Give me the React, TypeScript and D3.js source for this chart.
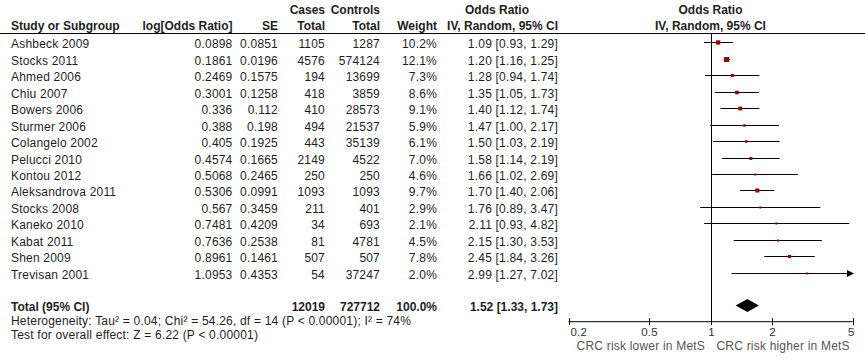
import React from "react";
import * as d3 from "d3";

const studies = ["Ashbeck 2009","Stocks 2011","Ahmed 2006","Chiu 2007","Bowers 2006","Sturmer 2006","Colangelo 2002","Pelucci 2010","Kontou 2012","Aleksandrova 2011","Stocks 2008","Kaneko 2010","Kabat 2011","Shen 2009","Trevisan 2001"];
const logOR = ["0.0898","0.1861","0.2469","0.3001","0.336","0.388","0.405","0.4574","0.5068","0.5306","0.567","0.7481","0.7636","0.8961","1.0953"];
const seVals = ["0.0851","0.0196","0.1575","0.1258","0.112","0.198","0.1925","0.1665","0.2465","0.0991","0.3459","0.4209","0.2538","0.1461","0.4353"];
const casesTotal = [1105,4576,194,418,410,494,443,2149,250,1093,211,34,81,507,54];
const controlsTotal = [1287,574124,13699,3859,28573,21537,35139,4522,250,1093,401,693,4781,507,37247];
const weights = [10.2,12.1,7.3,8.6,9.1,5.9,6.1,7.0,4.6,9.7,2.9,2.1,4.5,7.8,2.0];
const orVals = [1.09,1.20,1.28,1.35,1.40,1.47,1.50,1.58,1.66,1.70,1.76,2.11,2.15,2.45,2.99];
const ciLow = [0.93,1.16,0.94,1.05,1.12,1.00,1.03,1.14,1.02,1.40,0.89,0.93,1.30,1.84,1.27];
const ciHigh = [1.29,1.25,1.74,1.73,1.74,2.17,2.19,2.19,2.69,2.06,3.47,4.82,3.53,3.26,7.02];
const total = { cases: 12019, controls: 727712, weight: 100.0, or: 1.52, lo: 1.33, hi: 1.73 };
const axisTicks = [0.2, 0.5, 1, 2, 5];

const FONT = "'Liberation Sans', Arial, sans-serif";
const TXT = "#1e1e1e";

export default function App() {
  const W = 865, H = 363;
  const x = d3.scaleLog().domain([0.2, 5]).range([568.5, 852.5]);
  const y = d3.scaleLinear().domain([0, 14]).range([42.3, 272.7]);
  const totalY = y(16);
  const axisY = 321.7;
  const fmt2 = (v: number) => v.toFixed(2);
  const fmtW = (v: number) => v.toFixed(1) + "%";
  const ciText = (o: number, l: number, h: number) => `${fmt2(o)} [${fmt2(l)}, ${fmt2(h)}]`;
  const [d0, d1] = x.domain();

  const reg = { fontFamily: FONT, fontSize: 12, fill: TXT, letterSpacing: 0.2 } as any;
  const bold = { fontFamily: FONT, fontSize: 12, fill: TXT, fontWeight: "bold" } as any;

  return (
    <svg width={W} height={H} style={{ position: "absolute", left: 0, top: 0, background: "#fff" }}>
      {/* headers */}
      <text {...bold} x={325} y={13.5} textAnchor="end">Cases</text>
      <text {...bold} x={380} y={13.5} textAnchor="end">Controls</text>
      <text {...bold} x={497} y={13.5} textAnchor="middle">Odds Ratio</text>
      <text {...bold} x={710.5} y={13.5} textAnchor="middle">Odds Ratio</text>
      <text {...bold} x={11} y={30}>Study or Subgroup</text>
      <text {...bold} x={232.5} y={30} textAnchor="end">log[Odds Ratio]</text>
      <text {...bold} x={278} y={30} textAnchor="end">SE</text>
      <text {...bold} x={325} y={30} textAnchor="end">Total</text>
      <text {...bold} x={380} y={30} textAnchor="end">Total</text>
      <text {...bold} x={437} y={30} textAnchor="end">Weight</text>
      <text {...bold} x={558} y={30} textAnchor="end">IV, Random, 95% CI</text>
      <text {...bold} x={710.5} y={30} textAnchor="middle">IV, Random, 95% CI</text>
      <line x1={0} x2={W} y1={33.5} y2={33.5} stroke="#000" strokeWidth={1} />

      {/* reference line */}
      <line x1={Math.round(x(1)) + 0.5} x2={Math.round(x(1)) + 0.5} y1={34} y2={axisY} stroke="#000" strokeWidth={1} />

      {/* study rows */}
      {studies.map((s, i) => {
        const cy = y(i);
        const ty = cy + 6;
        const lo = Math.max(ciLow[i], d0);
        const hi = Math.min(ciHigh[i], d1);
        const arrowR = ciHigh[i] > d1;
        const side = Math.max(2, weights[i] * 0.42);
        const ly = Math.round(cy) + 0.5;
        return (
          <g key={s}>
            <text {...reg} x={11} y={ty}>{s}</text>
            <text {...reg} x={232.5} y={ty} textAnchor="end">{logOR[i]}</text>
            <text {...reg} x={278} y={ty} textAnchor="end">{seVals[i]}</text>
            <text {...reg} x={325} y={ty} textAnchor="end">{casesTotal[i]}</text>
            <text {...reg} x={380} y={ty} textAnchor="end">{controlsTotal[i]}</text>
            <text {...reg} x={437} y={ty} textAnchor="end">{fmtW(weights[i])}</text>
            <text {...reg} x={558} y={ty} textAnchor="end">{ciText(orVals[i], ciLow[i], ciHigh[i])}</text>
            <line x1={x(lo)} x2={arrowR ? x(hi) - 2 : x(hi)} y1={ly} y2={ly} stroke="#000" strokeWidth={1} />
            {arrowR && (
              <path d={`M${x(hi) + 1.5},${ly} L${x(hi) - 5.5},${ly - 3.5} L${x(hi) - 5.5},${ly + 3.5} Z`} fill="#000" />
            )}
            <rect x={x(orVals[i]) - side / 2} y={ly - side / 2} width={side} height={side} fill="#a00000" />
          </g>
        );
      })}

      {/* total row */}
      <text {...bold} x={11} y={totalY + 5}>Total (95% CI)</text>
      <text {...bold} x={325} y={totalY + 5} textAnchor="end">{total.cases}</text>
      <text {...bold} x={380} y={totalY + 5} textAnchor="end">{total.controls}</text>
      <text {...bold} x={437} y={totalY + 5} textAnchor="end">{fmtW(total.weight)}</text>
      <text {...bold} x={558} y={totalY + 5} textAnchor="end">{ciText(total.or, total.lo, total.hi)}</text>
      <path
        d={`M${x(total.lo)},${totalY} L${x(total.or)},${totalY - 6.5} L${x(total.hi)},${totalY} L${x(total.or)},${totalY + 6.5} Z`}
        fill="#000"
      />
      <text {...reg} x={11} y={325}>Heterogeneity: Tau² = 0.04; Chi² = 54.26, df = 14 (P &lt; 0.00001); I² = 74%</text>
      <text {...reg} x={11} y={338.5}>Test for overall effect: Z = 6.22 (P &lt; 0.00001)</text>

      {/* axis */}
      <line x1={x(d0)} x2={x(d1)} y1={axisY} y2={axisY} stroke="#000" strokeWidth={1} />
      {axisTicks.map((t, i) => {
        const tx = Math.round(x(t)) + 0.5;
        const anchor = i === 0 ? "start" : i === axisTicks.length - 1 ? "end" : "middle";
        const lx = i === 0 ? tx + 1 : i === axisTicks.length - 1 ? tx + 1 : tx;
        return (
          <g key={t}>
            <line x1={tx} x2={tx} y1={axisY - 3.5} y2={axisY + 3.5} stroke="#000" strokeWidth={1} />
            <text {...reg} fontSize={11.5} fill="#333" x={lx} y={336.3} textAnchor={anchor}>{String(t)}</text>
          </g>
        );
      })}
      <text {...reg} fill="#555" x={705} y={350} textAnchor="end">CRC risk lower in MetS</text>
      <text {...reg} fill="#555" x={716.5} y={350}>CRC risk higher in MetS</text>
    </svg>
  );
}
